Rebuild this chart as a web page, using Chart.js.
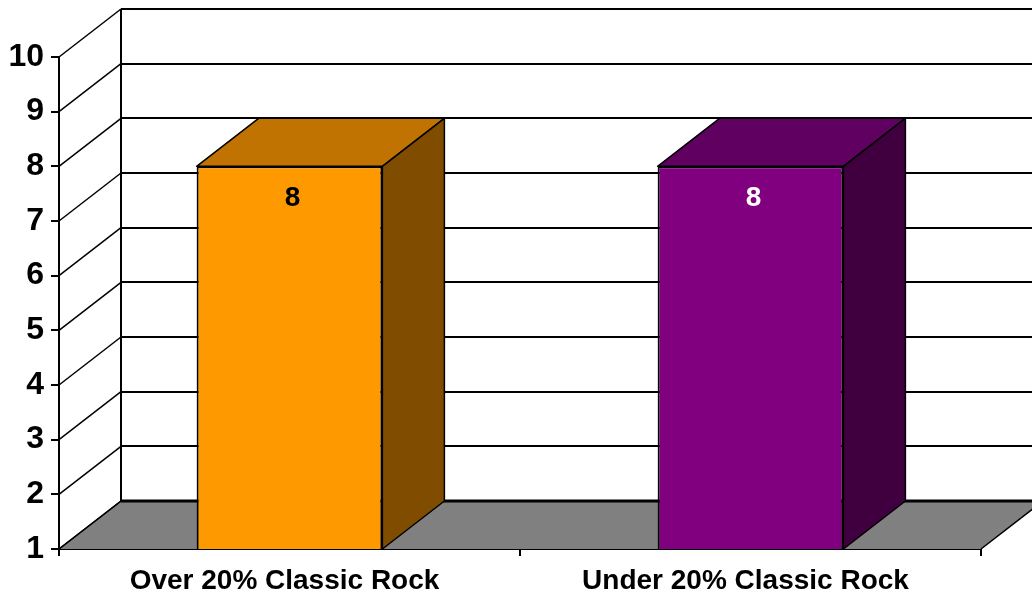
<!DOCTYPE html>
<html>
<head>
<meta charset="utf-8">
<script src="https://cdn.jsdelivr.net/npm/chart.js@4/dist/chart.umd.min.js"></script>
<style>
  html, body { margin: 0; padding: 0; background: #fff; }
  #wrap { width: 1032px; height: 595px; }
</style>
</head>
<body>
<div id="wrap"><canvas id="c" width="1032" height="595"></canvas></div>
<script>
const categories = ['Over 20% Classic Rock', 'Under 20% Classic Rock'];
const values = [8, 8];
const yTicks = [1, 2, 3, 4, 5, 6, 7, 8, 9, 10];
const frontColors = ['#FF9900', '#800080'];
const topColors = ['#C07300', '#600060'];
const sideColors = ['#804D00', '#400040'];
const labelColors = ['#000000', '#FFFFFF'];

const DEPTH_X = 62, DEPTH_Y = -48;
const FONT = '"Liberation Sans", Arial, sans-serif';

const threeD = {
  id: 'threeD',
  beforeDatasetsDraw(chart) {
    const ctx = chart.ctx;
    const ca = chart.chartArea;
    const y = chart.scales.y;
    const W = chart.width;
    const yBot = y.getPixelForValue(yTicks[0]);
    const yTop = y.getPixelForValue(yTicks[yTicks.length - 1]);
    ctx.save();
    // floor
    ctx.fillStyle = '#808080';
    ctx.beginPath();
    ctx.moveTo(ca.left, yBot);
    ctx.lineTo(ca.left + DEPTH_X, yBot + DEPTH_Y);
    ctx.lineTo(ca.right + DEPTH_X, yBot + DEPTH_Y);
    ctx.lineTo(ca.right, yBot);
    ctx.closePath();
    ctx.fill();
    ctx.strokeStyle = '#000';
    ctx.lineWidth = 1.5;
    ctx.beginPath();
    ctx.moveTo(ca.left, yBot);
    ctx.lineTo(ca.left + DEPTH_X, yBot + DEPTH_Y);
    ctx.moveTo(ca.right, yBot);
    ctx.lineTo(ca.right + DEPTH_X, yBot + DEPTH_Y);
    ctx.stroke();
    // back wall gridlines
    yTicks.forEach((t, i) => {
      const py = Math.round(y.getPixelForValue(t) + DEPTH_Y);
      ctx.lineWidth = (i === 0) ? 3 : 2;
      ctx.beginPath();
      ctx.moveTo(ca.left + DEPTH_X, py);
      ctx.lineTo(W, py);
      ctx.stroke();
    });
    // back wall left edge
    ctx.lineWidth = 2;
    ctx.beginPath();
    ctx.moveTo(ca.left + DEPTH_X, yTop + DEPTH_Y);
    ctx.lineTo(ca.left + DEPTH_X, yBot + DEPTH_Y);
    ctx.stroke();
    // side wall diagonals
    ctx.lineWidth = 1.5;
    yTicks.forEach((t) => {
      const py = y.getPixelForValue(t);
      ctx.beginPath();
      ctx.moveTo(ca.left, py);
      ctx.lineTo(ca.left + DEPTH_X, py + DEPTH_Y);
      ctx.stroke();
    });
    ctx.restore();
  },
  afterDatasetsDraw(chart) {
    const ctx = chart.ctx;
    const y = chart.scales.y;
    const floorY = y.getPixelForValue(y.min);
    const meta = chart.getDatasetMeta(0);
    ctx.save();
    ctx.strokeStyle = '#000';
    ctx.lineWidth = 1.5;
    ctx.lineJoin = 'round';
    meta.data.forEach((bar, i) => {
      const p = bar.getProps(['x', 'y', 'base', 'width'], true);
      const x1 = p.x - p.width / 2, x2 = p.x + p.width / 2;
      const yt = p.y, yb = Math.min(p.base, floorY);
      // top face
      ctx.fillStyle = topColors[i];
      ctx.beginPath();
      ctx.moveTo(x1, yt);
      ctx.lineTo(x1 + DEPTH_X, yt + DEPTH_Y);
      ctx.lineTo(x2 + DEPTH_X, yt + DEPTH_Y);
      ctx.lineTo(x2, yt);
      ctx.closePath();
      ctx.fill(); ctx.stroke();
      // side face
      ctx.fillStyle = sideColors[i];
      ctx.beginPath();
      ctx.moveTo(x2, yt);
      ctx.lineTo(x2 + DEPTH_X, yt + DEPTH_Y);
      ctx.lineTo(x2 + DEPTH_X, yb + DEPTH_Y);
      ctx.lineTo(x2, yb);
      ctx.closePath();
      ctx.fill(); ctx.stroke();
      // value label
      ctx.fillStyle = labelColors[i];
      ctx.font = 'bold 28px ' + FONT;
      ctx.textAlign = 'center';
      ctx.textBaseline = 'middle';
      ctx.fillText(String(values[i]), p.x + 3, yt + 32);
    });
    ctx.restore();
  }
};

new Chart(document.getElementById('c'), {
  type: 'bar',
  data: {
    labels: categories,
    datasets: [{
      data: values,
      backgroundColor: frontColors,
      borderColor: '#000',
      borderWidth: 2,
      borderSkipped: false,
      categoryPercentage: 1,
      barPercentage: 0.403
    }]
  },
  options: {
    responsive: false,
    animation: false,
    devicePixelRatio: 1,
    layout: { padding: { top: 57, right: 51, left: 0, bottom: 0 } },
    plugins: { legend: { display: false }, tooltip: { enabled: false } },
    scales: {
      y: {
        min: 1, max: 10,
        afterFit(s) { s.width = 59; },
        afterBuildTicks(s) { s.ticks = yTicks.map(v => ({ value: v })); },
        ticks: {
          color: '#000',
          padding: 7,
          font: { family: FONT, size: 32, weight: 'bold' }
        },
        grid: { drawOnChartArea: false, tickLength: 8, color: '#000', lineWidth: 2 },
        border: { color: '#000', width: 2 }
      },
      x: {
        afterFit(s) { s.height = 46; },
        ticks: {
          color: '#000',
          padding: 8,
          labelOffset: -5,
          font: { family: FONT, size: 28, weight: 'bold' }
        },
        grid: { drawOnChartArea: false, offset: true, tickLength: 7, color: '#000', lineWidth: 2 },
        border: { color: '#000', width: 2 }
      }
    }
  },
  plugins: [threeD]
});
</script>
</body>
</html>
